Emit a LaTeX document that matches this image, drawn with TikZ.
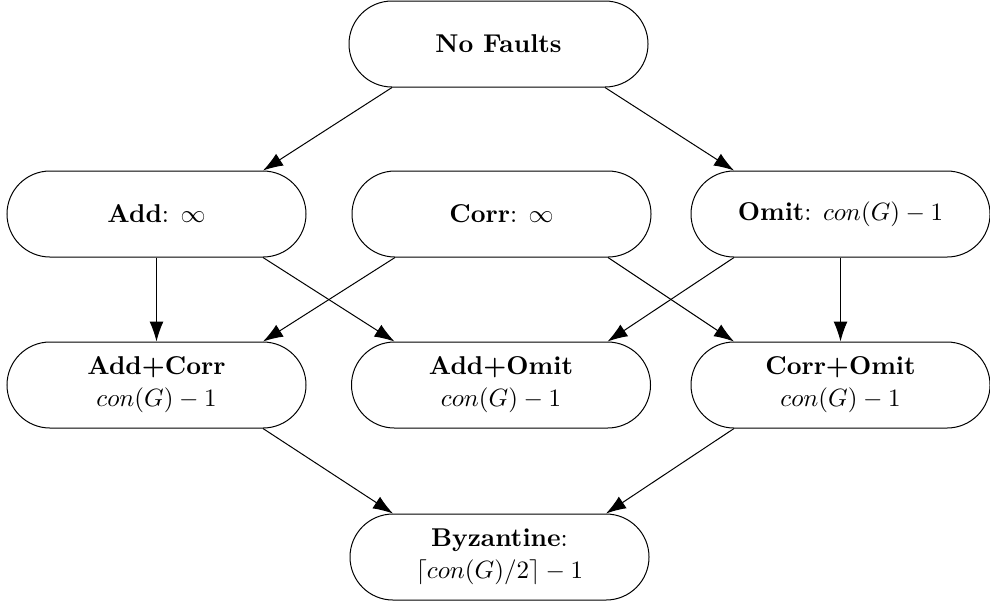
\documentclass[tikz,border=0pt]{standalone}
\usepackage{amsmath,amssymb}
\usepackage{tikz}
\usetikzlibrary{shapes}
\usetikzlibrary{arrows.meta}
\tikzset{fault/.style={shape=rounded rectangle,draw,minimum width=121.6pt,minimum height=34.4pt,align=center,inner sep=1pt,
    font=\fontsize{10.3pt}{12.8pt}\selectfont},
  imply/.style={-{Latex[length=8pt,width=5.6pt]}}}
\newcommand{\faultnode}[4]{\node[fault] (#1) at ( #2 , #3 ) {#4};}
\newcommand{\implyedge}[2]{\draw[imply] (#1) -- (#2);}

\begin{document}
\begin{tikzpicture}[x=0.4pt,y=-0.4pt]
\useasboundingbox (0,0) rectangle (990,602);
% row 1 of nodes
\faultnode{nofaults}{498.5}{44}{\textbf{No Faults}}
% row 2 of nodes
\faultnode{add}{156.5}{214}{\textbf{Add}: $\infty$}
\faultnode{corr}{501.5}{214}{\textbf{Corr}: $\infty$}
\faultnode{omit}{840.5}{214}{\textbf{Omit}: $con(G)-1$}
% row 3 of nodes
\faultnode{addcorr}{156.5}{385}{\textbf{Add+Corr}\\$con(G)-1$}
\faultnode{addomit}{501}{385}{\textbf{Add+Omit}\\$con(G)-1$}
\faultnode{corromit}{840.5}{385}{\textbf{Corr+Omit}\\$con(G)-1$}
% row 4 of nodes
\faultnode{byz}{499.5}{557}{\textbf{Byzantine}:\\$\lceil con(G)/2\rceil-1$}
% edges out of row 1
\implyedge{nofaults.south west}{add.north east}
\implyedge{nofaults.south east}{omit.north west}
% edges out of row 2
\implyedge{add.south}{addcorr.north}
\implyedge{add.south east}{addomit.north west}
\implyedge{corr.south west}{addcorr.north east}
\implyedge{corr.south east}{corromit.north west}
\implyedge{omit.south west}{addomit.north east}
\implyedge{omit.south}{corromit.north}
% edges out of row 3
\implyedge{addcorr.south east}{byz.north west}
\implyedge{corromit.south west}{byz.north east}
\end{tikzpicture}
\end{document}
